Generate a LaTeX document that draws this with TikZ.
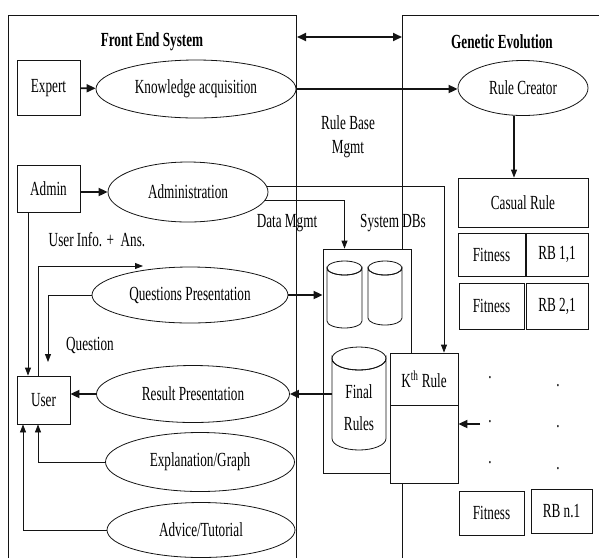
\documentclass[tikz,border=0pt]{standalone}
\usepackage{fontspec}
\setmainfont{Liberation Serif}[FakeStretch=0.66]
\usetikzlibrary{arrows.meta,shapes.geometric}
\definecolor{ink}{RGB}{20,20,20}
\newcommand\diagsize{\fontsize{20}{24}\selectfont}
% drum: name, centre x, centre y, width, height, cap radius, text
\newcommand\drum[7]{%
 \draw[ink,line width=.8pt,fill=white] ({#2-#4/2},{#3-#5/2+#6}) -- ({#2-#4/2},{#3+#5/2-#6})
  arc[start angle=180,end angle=0,x radius={#4/2},y radius=#6] -- ({#2+#4/2},{#3-#5/2+#6})
  arc[start angle=0,end angle=180,x radius={#4/2},y radius=#6] -- cycle;
 \draw[ink,line width=.8pt] (#2,{#3-#5/2+#6}) ellipse[x radius={#4/2},y radius=#6];
 \node[inner sep=0pt,minimum width=#4pt,minimum height={#5-1.6*#6},align=center] (#1) at (#2,{#3+.8*#6}) {#7};}

\begin{document}
\begin{tikzpicture}[x=1pt,y=-1pt,font=\diagsize,
 box/.style={draw=ink,line width=.8pt,fill=white,inner sep=0pt,align=center},
 oval/.style={draw=ink,line width=.8pt,ellipse,inner sep=0pt},
 title/.style={font=\diagsize\bfseries},
 arr/.style={-{Triangle[length=8pt,width=6pt]},draw=ink,line width=.8pt},
 barr/.style={-{Triangle[length=9pt,width=8pt]},draw=ink,line width=1.8pt}]
\useasboundingbox (0,0) rectangle (599,558);
% the two halves
\draw[ink,line width=.7pt] (8,558)--(8,15)--(296,15)--(296,558);
\draw[ink,line width=.7pt] (402,558)--(402,15)--(599,15);
\coordinate (dblL) at (297,37);
\coordinate (dblR) at (402,37);
\draw[barr,{Triangle[length=9pt,width=8pt]}-{Triangle[length=9pt,width=8pt]}] (dblL)--(dblR);
\node[title] (fes) at (152,42) {Front End System};
\node[title] (ge) at (502,42) {Genetic Evolution};

% front end
\node[box,minimum width=63pt,minimum height=55pt] (expert) at (48.5,88) {Expert};
\node[oval,minimum width=200pt,minimum height=58pt] (know) at (196,89) {Knowledge acquisition};
\node[box,minimum width=63pt,minimum height=47pt] (admin) at (48.5,188.5) {Admin};
\node[oval,minimum width=160pt,minimum height=60pt] (adm) at (188,192) {Administration};
\node (uinfo) at (97,240) {User Info. +\ \ Ans.};
\node[oval,minimum width=196pt,minimum height=56pt] (qp) at (190,295) {Questions Presentation};
\node (qlabel) at (90,345) {Question};
\node[box,minimum width=53pt,minimum height=48pt] (user) at (43.5,400) {User};
\node[oval,minimum width=193pt,minimum height=57pt] (rp) at (193,394) {Result Presentation};
\node[oval,minimum width=189pt,minimum height=59pt] (eg) at (200,462) {Explanation/Graph};
\node[oval,minimum width=188pt,minimum height=55pt] (tutor) at (201,530) {Advice/Tutorial};
\coordinate (qtip) at (143,266);
\coordinate (ustop) at (48,362);

% data stores
\node (rbm) [align=center] at (348,137) {Rule Base\\Mgmt};
\node (dmgmt) at (287,223) {Data Mgmt};
\node (sdb) at (393,223) {System DBs};
\node[box,minimum width=88pt,minimum height=224pt] (sysdb) at (367,361) {};
\drum{db1}{344.5}{294.5}{35}{67}{7}{}
\drum{db2}{385}{293}{34}{64}{7}{}
\drum{final}{359}{398.5}{54}{103}{11.5}{Final\\[8pt]Rules}
\node[box,minimum width=68pt,minimum height=52pt] (kth) at (424,379) {K\textsuperscript{th} Rule};
\node[box,minimum width=68pt,minimum height=78pt] (kthlow) at (424,444) {};

% genetic evolution
\node[oval,minimum width=130pt,minimum height=55pt] (creator) at (523,88) {Rule Creator};
\node[box,minimum width=130pt,minimum height=49pt] (casual) at (523,202.5) {Casual Rule};
\node[box,minimum width=67pt,minimum height=43pt] (fit1) at (491.5,254.5) {Fitness};
\node[box,minimum width=62pt,minimum height=43pt] (rb1) at (557,254.5) {RB 1,1};
\node[box,minimum width=65pt,minimum height=46pt] (fit2) at (491.5,306) {Fitness};
\node[box,minimum width=62pt,minimum height=46pt] (rb2) at (557,306) {RB 2,1};
\foreach \i/\x/\y in {1/490/378,2/490/422,3/490/463,4/558/386,5/558/427,6/558/469}
 \node[inner sep=0pt] (dot\i) at (\x,\y) {.};
\node[box,minimum width=65pt,minimum height=44pt] (fitn) at (491.5,513) {Fitness};
\node[box,minimum width=61pt,minimum height=44pt] (rbn) at (561.5,511) {RB n.1};
\coordinate (dfrom) at (480,424);

% flows
\draw[barr] (expert) -- (know);
\draw[barr] (know.east) -- (know.east -| creator.west);
\draw[arr,line width=1.1pt] ([xshift=-9pt]creator.south) -- ([xshift=-9pt]casual.north);
\draw[barr] (admin.east |- adm.west) -- (adm.west);
\draw[arr] (adm.4) -| ([xshift=20pt]kth.north);
\draw[arr] (adm.-6) -| (db1 |- sysdb.north);
\draw[arr] ([xshift=-20.5pt]admin.south) -- ([xshift=-15.5pt]user.north);
\draw[arr] ([xshift=-5.5pt]user.north) |- (qtip);
\draw[arr] (qp.west) -| (ustop);
\draw[barr] (qp.east) -- (qp.east -| sysdb.west);
\draw[barr] (rp.west) -- (rp.west -| user.east);
\draw[barr] (rp.east -| final.west) -- (rp.east);
\draw[arr] (eg.west) -| ([xshift=-5.5pt]user.south);
\draw[arr] (tutor.west) -| ([xshift=-20.5pt]user.south);
\draw[barr] (dfrom) -- (dfrom -| kthlow.east);
\end{tikzpicture}
\end{document}
